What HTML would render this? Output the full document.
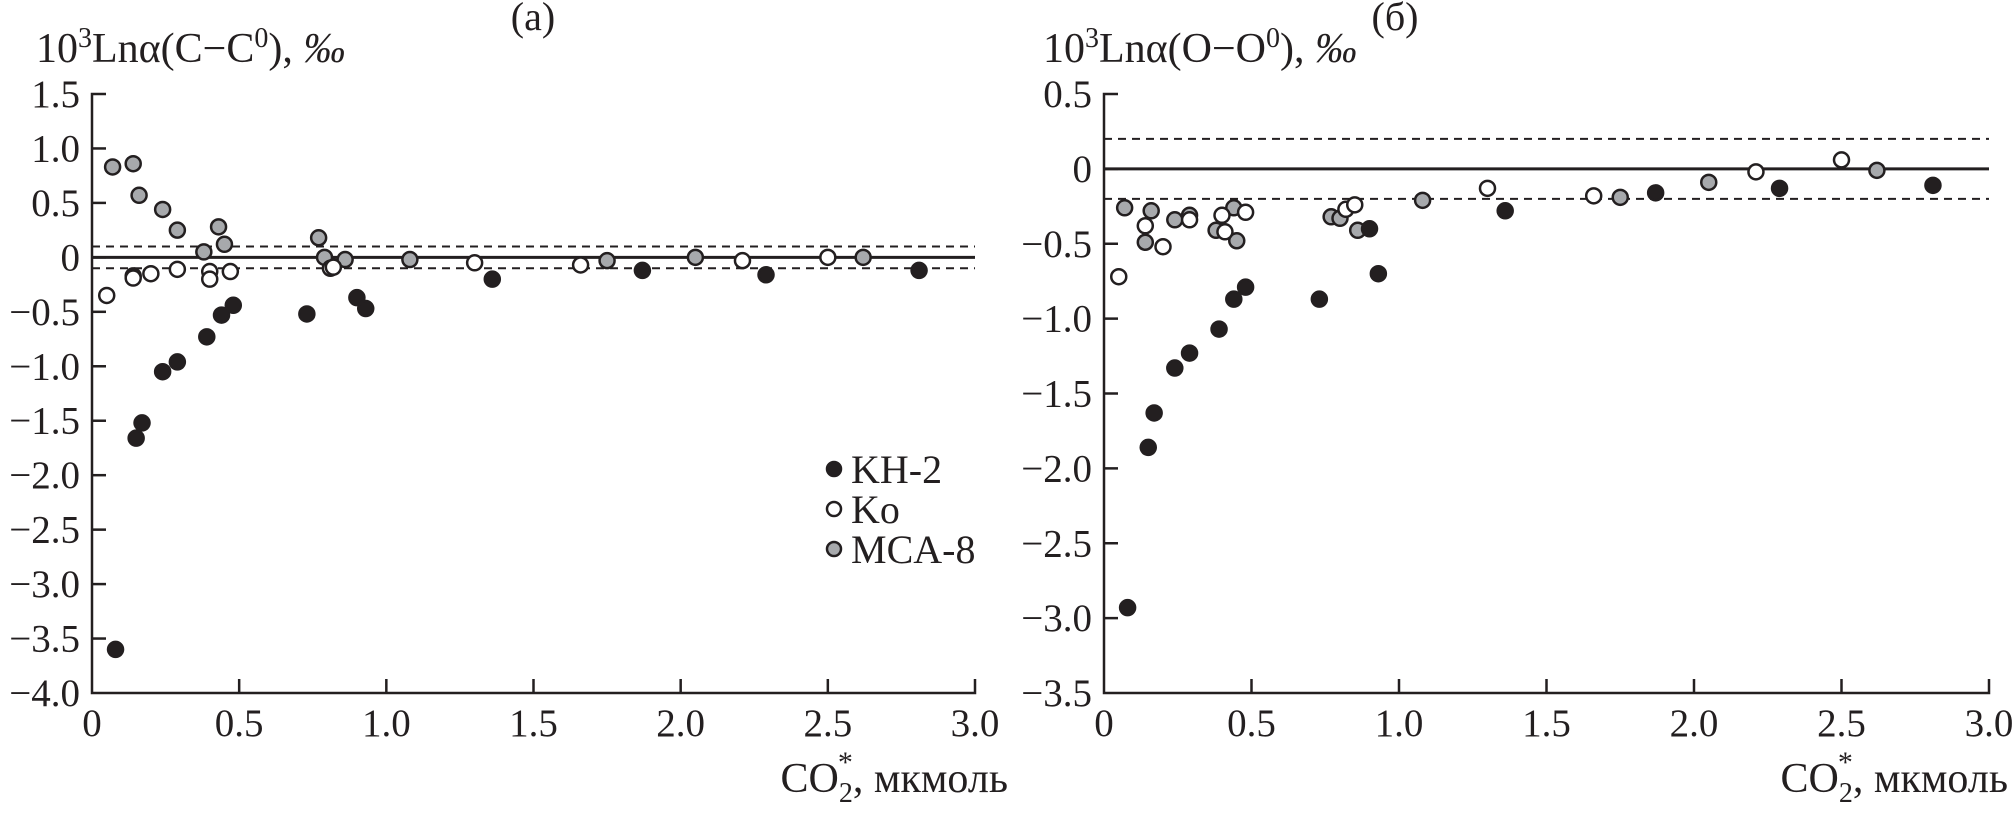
<!DOCTYPE html>
<html><head><meta charset="utf-8"><style>
html,body{margin:0;padding:0;background:#fff;}
svg{display:block;}
svg text{font-family:"Liberation Serif","Times New Roman",serif;}
</style></head><body>
<svg id="chart" width="2013" height="815" viewBox="0 0 2013 815" xmlns="http://www.w3.org/2000/svg" font-family="Liberation Serif, serif"></svg>
<script>
// Panel (a) data: C isotope
const aKH2x=[0.08,0.15,0.17,0.24,0.29,0.39,0.44,0.48,0.73,0.90,0.93,1.36,1.87,2.29,2.81];
const aKH2y=[-3.6,-1.66,-1.52,-1.05,-0.96,-0.73,-0.53,-0.44,-0.52,-0.37,-0.47,-0.2,-0.12,-0.16,-0.12];
const aKox=[0.05,0.14,0.14,0.20,0.29,0.40,0.40,0.47,0.81,0.82,1.30,1.66,2.21,2.50];
const aKoy=[-0.35,-0.17,-0.19,-0.15,-0.11,-0.13,-0.20,-0.13,-0.10,-0.09,-0.05,-0.07,-0.03,0.0];
const aMCAx=[0.07,0.14,0.16,0.24,0.29,0.38,0.43,0.45,0.77,0.79,0.86,1.08,1.75,2.05,2.62];
const aMCAy=[0.83,0.86,0.57,0.44,0.25,0.05,0.28,0.12,0.18,0.0,-0.02,-0.02,-0.03,0.0,0.0];
// Panel (b) data: O isotope
const bKH2x=[0.08,0.15,0.17,0.24,0.29,0.39,0.44,0.48,0.73,0.90,0.93,1.36,1.87,2.29,2.81];
const bKH2y=[-2.93,-1.86,-1.63,-1.33,-1.23,-1.07,-0.87,-0.79,-0.87,-0.40,-0.70,-0.28,-0.16,-0.13,-0.11];
const bKox=[0.05,0.14,0.20,0.29,0.40,0.41,0.48,0.82,0.85,1.30,1.66,2.21,2.50];
const bKoy=[-0.72,-0.38,-0.52,-0.34,-0.31,-0.42,-0.29,-0.27,-0.24,-0.13,-0.18,-0.02,0.06];
const bMCAx=[0.07,0.14,0.16,0.24,0.29,0.38,0.44,0.45,0.77,0.80,0.86,1.08,1.75,2.05,2.62];
const bMCAy=[-0.26,-0.49,-0.28,-0.34,-0.31,-0.41,-0.26,-0.48,-0.32,-0.33,-0.41,-0.21,-0.19,-0.09,-0.01];
const xTicks=[0,0.5,1.0,1.5,2.0,2.5,3.0];
const xTickLabels=["0","0.5","1.0","1.5","2.0","2.5","3.0"];
const aYTicks=[1.5,1.0,0.5,0,-0.5,-1.0,-1.5,-2.0,-2.5,-3.0,-3.5,-4.0];
const aYLabels=["1.5","1.0","0.5","0","\u22120.5","\u22121.0","\u22121.5","\u22122.0","\u22122.5","\u22123.0","\u22123.5","\u22124.0"];
const bYTicks=[0.5,0,-0.5,-1.0,-1.5,-2.0,-2.5,-3.0,-3.5];
const bYLabels=["0.5","0","\u22120.5","\u22121.0","\u22121.5","\u22122.0","\u22122.5","\u22123.0","\u22123.5"];
const aBand=[0.1,-0.1];
const bBand=[0.2,-0.2];

const NS="http://www.w3.org/2000/svg";
const FF="Liberation Serif, Times New Roman, serif";
const svg=document.getElementById('chart');
function mk(tag,attrs,parent){const e=document.createElementNS(NS,tag);for(const k in attrs)e.setAttribute(k,attrs[k]);if(tag==='text')e.setAttribute('font-family',FF);(parent||svg).appendChild(e);return e;}

function panel(opt){
  const g=mk('g',{});
  
  
  const sx=v=>opt.x0+(v-0)/3*(opt.x1-opt.x0);
  const sy=v=>opt.yTop+(opt.ymax-v)/(opt.ymax-opt.ymin)*(opt.yBot-opt.yTop);
  const ax=mk('path',{d:`M${opt.x0+14},${opt.yTop} H${opt.x0} V${opt.yBot} H${opt.x1} V${opt.yBot-14}`,fill:'none',stroke:'#231f20','stroke-width':2.5},g);
  
  
  opt.yTicks.forEach((t,i)=>{
    const y=sy(t);
    if(i>0&&i<opt.yTicks.length-1){const tk=mk('line',{x1:opt.x0,x2:opt.x0+14,y1:y,y2:y,stroke:'#231f20','stroke-width':2.5},g);
      
      }
    const tx=mk('text',{x:opt.x0-12,y:y+13,'text-anchor':'end','font-size':39,fill:'#231f20'},g);
    tx.textContent=opt.yLabels[i];
    
    
  });
  xTicks.forEach((t,i)=>{
    const x=sx(t);
    if(i>0&&i<xTicks.length-1){const tk=mk('line',{x1:x,x2:x,y1:opt.yBot,y2:opt.yBot-14,stroke:'#231f20','stroke-width':2.5},g);
      
      }
    const tx=mk('text',{x:x,y:opt.yBot+43,'text-anchor':'middle','font-size':39,fill:'#231f20'},g);
    tx.textContent=xTickLabels[i];
    
    
  });
  const zl=mk('line',{x1:opt.x0,x2:opt.x1,y1:sy(0),y2:sy(0),stroke:'#231f20','stroke-width':3},g);
  
  
  opt.band.forEach(b=>{
    const dl=mk('line',{x1:opt.x0,x2:opt.x1,y1:sy(b),y2:sy(b),stroke:'#231f20','stroke-width':2,'stroke-dasharray':'8,6'},g);
    
    
  });
  const series=[[opt.mcaX,opt.mcaY,'#a7a9ac','mca-8-point'],[opt.koX,opt.koY,'#ffffff','ko-point'],[opt.khX,opt.khY,'#231f20','kh-2-point']];
  series.forEach(s=>{
    s[0].forEach((xv,i)=>{
      const c=mk('circle',{cx:sx(xv),cy:sy(s[1][i]),r:7.5,fill:s[2],stroke:'#231f20','stroke-width':2.5},g);
      
      
    });
  });
  const t=mk('text',{x:opt.titleX,y:62,'font-size':42,fill:'#231f20'},g);
  t.innerHTML='10<tspan dy="-15" font-size="28">3</tspan><tspan dy="15">Ln\u03b1('+opt.el+'\u2212'+opt.el+'</tspan><tspan dy="-15" font-size="28">0</tspan><tspan dy="15">), </tspan><tspan font-style="italic">\u2030</tspan>';
  
  
  const pl=mk('text',{x:opt.panelX,y:30,'text-anchor':'middle','font-size':40,fill:'#231f20'},g);
  pl.textContent=opt.panelLabel;
  
  
  const xl=mk('text',{x:opt.xlabX,y:792,'text-anchor':'end','font-size':42,fill:'#231f20'},g);
  xl.innerHTML='CO<tspan dy="10" font-size="28">2</tspan><tspan dx="-15" dy="-30" font-size="30">*</tspan><tspan dy="20">, мкмоль</tspan>';
  
  
  return {g,sx,sy};
}

panel({name:'panel-a',x0:92,x1:975,yTop:94,yBot:693,ymax:1.5,ymin:-4.0,yTicks:aYTicks,yLabels:aYLabels,band:aBand,
  khX:aKH2x,khY:aKH2y,koX:aKox,koY:aKoy,mcaX:aMCAx,mcaY:aMCAy,titleX:36,el:'C',panelX:533,panelLabel:'(a)',xlabX:1008});
panel({name:'panel-b',x0:1104,x1:1989,yTop:94,yBot:693,ymax:0.5,ymin:-3.5,yTicks:bYTicks,yLabels:bYLabels,band:bBand,
  khX:bKH2x,khY:bKH2y,koX:bKox,koY:bKoy,mcaX:bMCAx,mcaY:bMCAy,titleX:1043,el:'O',panelX:1395,panelLabel:'(\u0431)',xlabX:2008});

const legendNames=['KH-2','Ko','MCA-8'];
const legendFill=['#231f20','#ffffff','#a7a9ac'];
const lg=mk('g',{});


legendNames.forEach((n,i)=>{
  const y=469+i*40;
  const c=mk('circle',{cx:834,cy:y,r:7,fill:legendFill[i],stroke:'#231f20','stroke-width':2.5},lg);
  
  
  const t=mk('text',{x:851,y:y+14,'font-size':40,fill:'#231f20'},lg);
  t.textContent=n;
  
  
});
</script>
</body></html>
